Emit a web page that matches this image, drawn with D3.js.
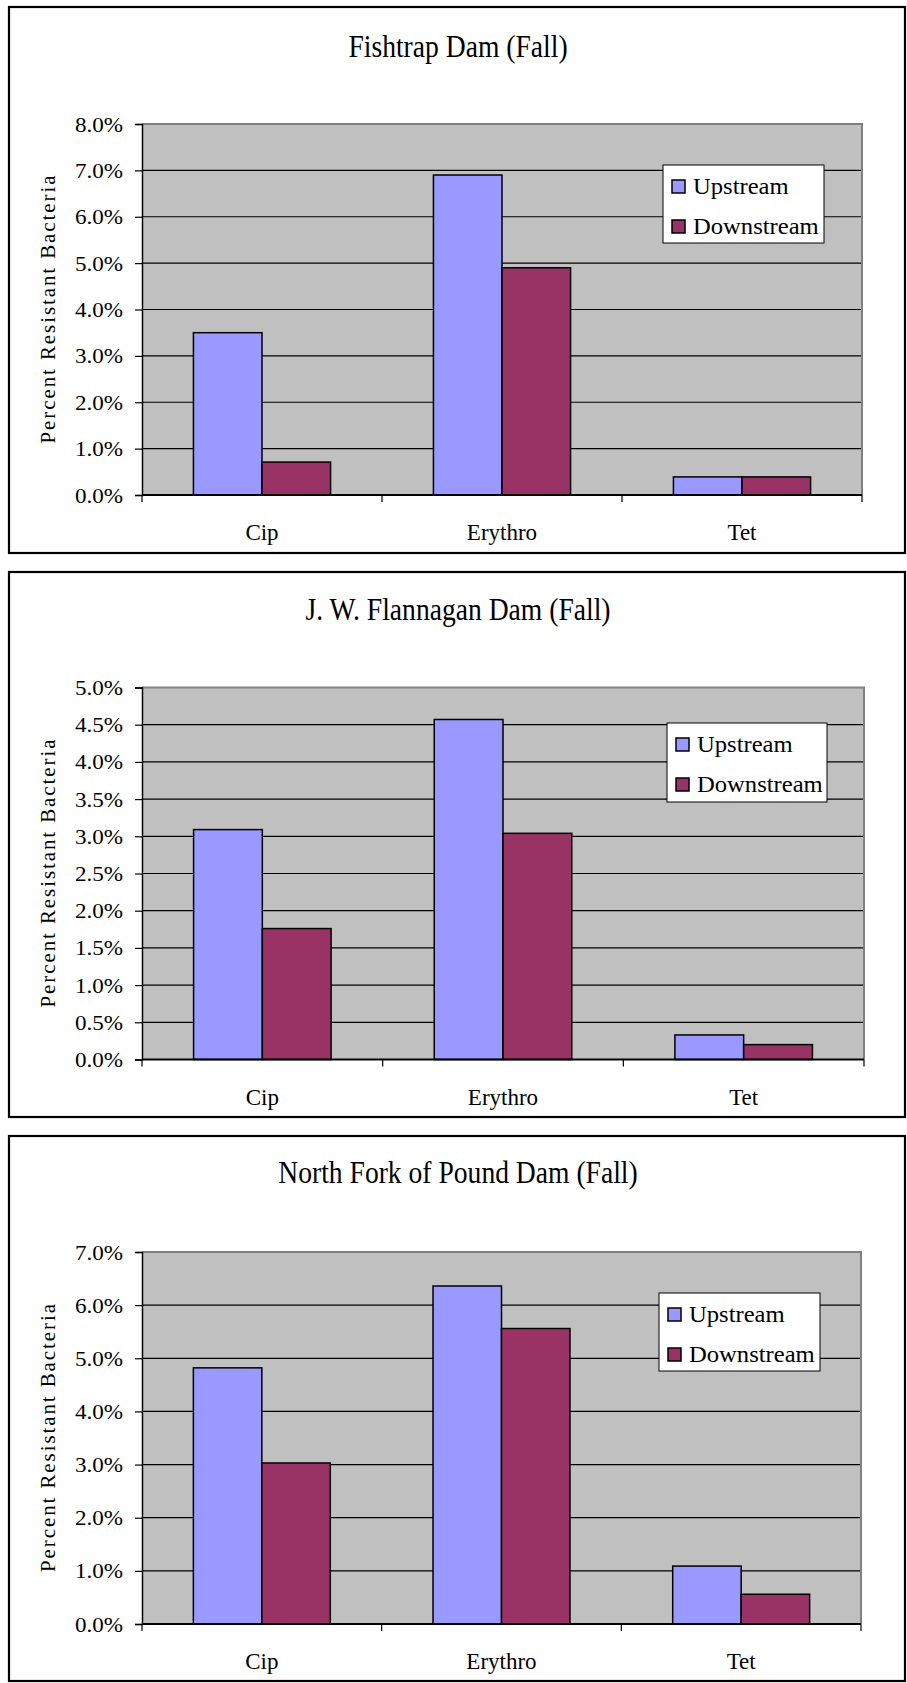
<!DOCTYPE html>
<html>
<head>
<meta charset="utf-8">
<script src="https://cdn.jsdelivr.net/npm/d3@7"></script>
<style>
  html, body { margin: 0; padding: 0; background: #fff; }
  svg { display: block; }
  text { font-family: "Liberation Serif", "Times New Roman", serif; fill: #000; }
</style>
</head>
<body>
<svg id="chart" width="907" height="1683"></svg>
<script>
// ---- Data ----
const categories = ["Cip", "Erythro", "Tet"];
const seriesNames = ["Upstream", "Downstream"];
const chartTitles = ["Fishtrap Dam (Fall)", "J. W. Flannagan Dam (Fall)", "North Fork of Pound Dam (Fall)"];
const yAxisLabel = "Percent Resistant Bacteria";

const fishtrapUpstream   = [0.0350, 0.0690, 0.0039];
const fishtrapDownstream = [0.0071, 0.0490, 0.0039];
const flannaganUpstream   = [0.0309, 0.0457, 0.0033];
const flannaganDownstream = [0.0176, 0.0304, 0.0020];
const northForkUpstream   = [0.0482, 0.0636, 0.0109];
const northForkDownstream = [0.0303, 0.0556, 0.0056];

const yMaxValues = [0.08, 0.05, 0.07];
const yTickSteps = [0.01, 0.005, 0.01];

const seriesColors = ["#9999FF", "#993366"];

// ---- Layout (positions only) ----
const layouts = [
  { top: 7,    bottom: 553,  titleY: 56.7,   plotTop: 124,   plotBottom: 495,    plotRight: 862, legX: 663, legY: 165,  legW: 161, legH: 78 },
  { top: 572,  bottom: 1117, titleY: 620,    plotTop: 687.5, plotBottom: 1059.5, plotRight: 864, legX: 667, legY: 723,  legW: 160, legH: 79 },
  { top: 1136, bottom: 1681, titleY: 1183.3, plotTop: 1252,  plotBottom: 1624,   plotRight: 861, legX: 659, legY: 1293, legW: 161, legH: 78 }
];
const panelLeft = 9, panelRight = 905, plotLeft = 142;

const datasets = [
  [fishtrapUpstream, fishtrapDownstream],
  [flannaganUpstream, flannaganDownstream],
  [northForkUpstream, northForkDownstream]
];

const svg = d3.select("#chart");

function stretch(sel, f) {
  sel.each(function () {
    const w = this.getComputedTextLength();
    d3.select(this).attr("textLength", w * f).attr("lengthAdjust", "spacingAndGlyphs");
  });
}

datasets.forEach((series, i) => {
  const L = layouts[i];
  const g = svg.append("g");

  // panel border
  g.append("rect")
    .attr("x", panelLeft).attr("y", L.top)
    .attr("width", panelRight - panelLeft).attr("height", L.bottom - L.top)
    .attr("fill", "#fff").attr("stroke", "#000").attr("stroke-width", 2.2);

  // title
  const title = g.append("text")
    .attr("x", 458).attr("y", L.titleY)
    .attr("text-anchor", "middle")
    .style("font-size", "31px")
    .text(chartTitles[i]);
  stretch(title, 0.89);

  const x = d3.scaleBand().domain(categories).range([plotLeft, L.plotRight]).padding(0);
  const xs = d3.scaleBand().domain(seriesNames).range([0, x.bandwidth()]).paddingInner(0).paddingOuter(0.75);
  const y = d3.scaleLinear().domain([0, yMaxValues[i]]).range([L.plotBottom, L.plotTop]);
  const ticks = d3.range(0, yMaxValues[i] + yTickSteps[i] / 2, yTickSteps[i]);

  // plot background
  g.append("rect")
    .attr("x", plotLeft).attr("y", L.plotTop)
    .attr("width", L.plotRight - plotLeft).attr("height", L.plotBottom - L.plotTop)
    .attr("fill", "#C0C0C0");

  // gridlines
  g.append("g").selectAll("line")
    .data(ticks.slice(1, -1))
    .join("line")
    .attr("x1", plotLeft).attr("x2", L.plotRight)
    .attr("y1", d => y(d)).attr("y2", d => y(d))
    .attr("stroke", "#000").attr("stroke-width", 1.2);

  // top and right plot border (gray)
  g.append("path")
    .attr("d", `M${plotLeft},${L.plotTop}H${L.plotRight}V${L.plotBottom}`)
    .attr("fill", "none").attr("stroke", "#808080").attr("stroke-width", 2);

  // bars
  const cat = g.append("g").selectAll("g")
    .data(categories)
    .join("g")
    .attr("transform", d => `translate(${x(d)},0)`);
  cat.selectAll("rect")
    .data((c, ci) => seriesNames.map((s, si) => ({ s, si, v: series[si][ci] })))
    .join("rect")
    .attr("x", d => xs(d.s))
    .attr("width", xs.bandwidth())
    .attr("y", d => y(d.v))
    .attr("height", d => y(0) - y(d.v))
    .attr("fill", d => seriesColors[d.si])
    .attr("stroke", "#000").attr("stroke-width", 1.5);

  // y axis
  const yAxis = g.append("g")
    .attr("transform", `translate(${plotLeft},0)`)
    .call(d3.axisLeft(y).tickValues(ticks).tickFormat(d3.format(".1%")).tickSize(7).tickPadding(12));
  yAxis.select(".domain").attr("stroke", "#000").attr("stroke-width", 1.5);
  yAxis.selectAll(".tick line").attr("stroke", "#000").attr("stroke-width", 1.2);
  const tickText = yAxis.selectAll(".tick text")
    .style("font-family", '"Liberation Serif", "Times New Roman", serif')
    .style("font-size", "22px").attr("fill", "#000");
  stretch(tickText, 1.05);

  // x axis: ticks at category boundaries
  const xAxis = g.append("g");
  xAxis.append("line")
    .attr("x1", plotLeft).attr("x2", L.plotRight)
    .attr("y1", L.plotBottom).attr("y2", L.plotBottom)
    .attr("stroke", "#000").attr("stroke-width", 2);
  const boundaries = categories.map(c => x(c)).concat([x(categories[categories.length - 1]) + x.bandwidth()]);
  xAxis.selectAll("line.tk")
    .data(boundaries)
    .join("line").attr("class", "tk")
    .attr("x1", d => d).attr("x2", d => d)
    .attr("y1", L.plotBottom).attr("y2", L.plotBottom + 7)
    .attr("stroke", "#000").attr("stroke-width", 1.2);
  xAxis.selectAll("text")
    .data(categories)
    .join("text")
    .attr("x", d => x(d) + x.bandwidth() / 2)
    .attr("y", L.plotBottom + 45)
    .attr("text-anchor", "middle")
    .style("font-size", "23px")
    .text(d => d);

  // y axis label
  const midY = (L.plotTop + L.plotBottom) / 2;
  g.append("text")
    .attr("transform", `translate(55,${midY}) rotate(-90)`)
    .attr("text-anchor", "middle")
    .attr("textLength", 268)
    .attr("lengthAdjust", "spacing")
    .style("font-size", "21px")
    .text(yAxisLabel);

  // legend
  const leg = g.append("g").attr("transform", `translate(${L.legX},${L.legY})`);
  leg.append("rect")
    .attr("width", L.legW).attr("height", L.legH)
    .attr("fill", "#fff").attr("stroke", "#000").attr("stroke-width", 1);
  const items = leg.selectAll("g.item")
    .data(seriesNames)
    .join("g").attr("class", "item")
    .attr("transform", (d, k) => `translate(0,${k * 40})`);
  items.append("rect")
    .attr("x", 9).attr("y", 15)
    .attr("width", 13).attr("height", 13)
    .attr("fill", (d, k) => seriesColors[k])
    .attr("stroke", "#000").attr("stroke-width", 1.5);
  const legText = items.append("text")
    .attr("x", 30).attr("y", 28.6)
    .style("font-size", "23px")
    .text(d => d);
  stretch(legText, 1.07);
});
</script>
</body>
</html>
